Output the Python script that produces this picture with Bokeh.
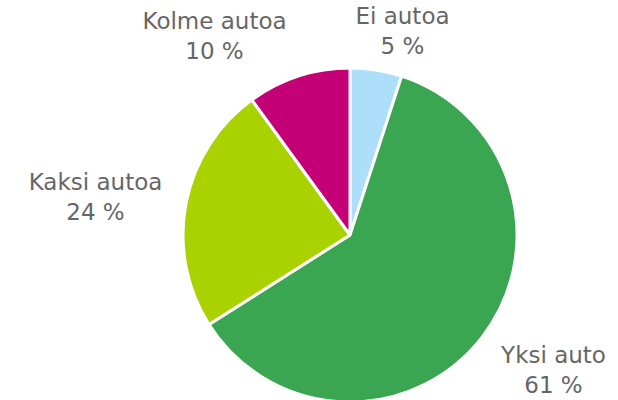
import math
from bokeh.plotting import figure
from bokeh.models import Range1d, ColumnDataSource
from bokeh.core.properties import value
from bokeh.embed import file_html
from bokeh.resources import INLINE

categories = ["Ei autoa", "Yksi auto", "Kaksi autoa", "Kolme autoa"]
shares = [5, 61, 24, 10]
colors = ["#ADDFFB", "#3BA651", "#A9D200", "#C40077"]

# layout (page pixel coordinates: x centre, baseline of first line)
label_pos = {
    "Ei autoa": (402, 15),
    "Yksi auto": (553, 354),
    "Kaksi autoa": (95, 181),
    "Kolme autoa": (214, 20),
}
line_gap = 30
W, H = 618, 400
cx, cy, r = 349.5, 234.5, 167

total = float(sum(shares))
starts, ends = [], []
acc = 0.0
for v in shares:
    starts.append(math.pi / 2 - 2 * math.pi * acc / total)
    acc += v
    ends.append(math.pi / 2 - 2 * math.pi * acc / total)

src = ColumnDataSource(dict(cat=categories, val=shares, color=colors,
                            start=starts, end=ends))

p = figure(width=W, height=H, output_backend="svg", toolbar_location=None,
           x_range=Range1d(0, W), y_range=Range1d(0, H),
           min_border=0, outline_line_color=None)
p.axis.visible = False
p.grid.visible = False
p.background_fill_color = "white"

p.wedge(x=cx, y=H - cy, radius=r, start_angle="start", end_angle="end",
        direction="clock", fill_color="color", line_color="white",
        line_width=3, source=src)

tx, ty, tt = [], [], []
for c, v in zip(categories, shares):
    x, b = label_pos[c]
    tx += [x, x]
    ty += [H - b, H - b - line_gap]
    tt += [c, f"{v} %"]

p.text(x=tx, y=ty, text=tt, text_align="center", text_baseline="alphabetic",
       text_font=value("DejaVu Sans"), text_font_size="23px",
       text_color="#666666")

open("out.html", "w").write(file_html(p, INLINE))
